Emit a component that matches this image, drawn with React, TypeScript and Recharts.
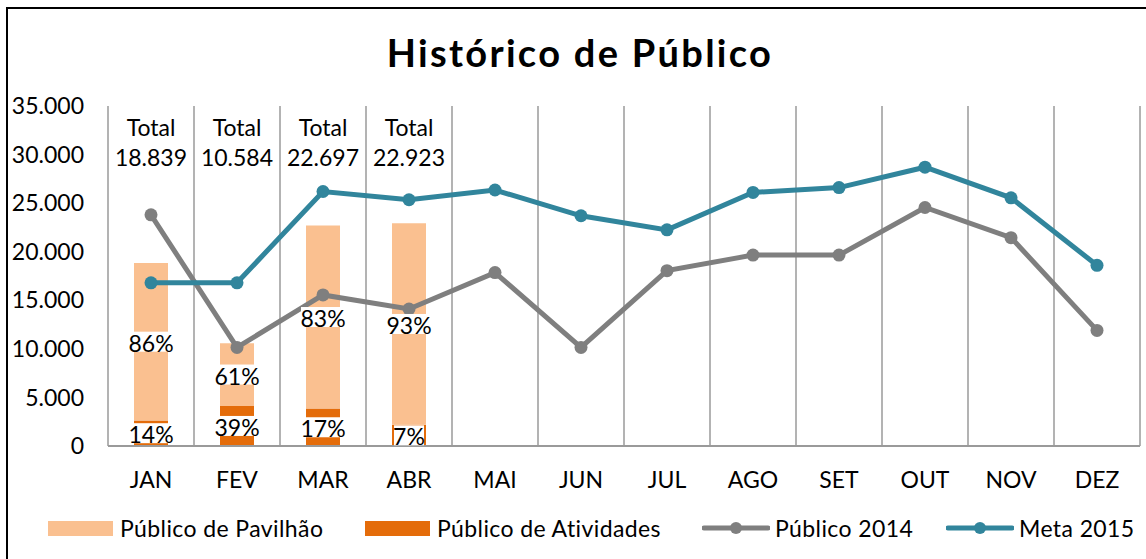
import { ComposedChart, Bar, Line, XAxis, YAxis, CartesianGrid, LabelList } from "recharts";

const FONT = "Lato, 'Open Sans', sans-serif";

const months = ["JAN", "FEV", "MAR", "ABR", "MAI", "JUN", "JUL", "AGO", "SET", "OUT", "NOV", "DEZ"];
const publicoPavilhao = [16202, 6456, 18839, 20723, null, null, null, null, null, null, null, null];
const publicoAtividades = [2637, 4128, 3858, 2200, null, null, null, null, null, null, null, null];
const pctPavilhao = [86, 61, 83, 93, null, null, null, null, null, null, null, null];
const pctAtividades = [14, 39, 17, 7, null, null, null, null, null, null, null, null];
const totals = [18839, 10584, 22697, 22923, null, null, null, null, null, null, null, null];
const publico2014 = [23800, 10150, 15550, 14100, 17850, 10150, 18050, 19650, 19650, 24550, 21450, 11900];
const meta2015 = [16800, 16800, 26200, 25350, 26350, 23700, 22250, 26100, 26600, 28700, 25550, 18600];
const yTicks = [0, 5000, 10000, 15000, 20000, 25000, 30000, 35000];

const data = months.map((m, i) => ({
    month: m,
    pavilhao: publicoPavilhao[i],
    atividades: publicoAtividades[i],
    pctPav: pctPavilhao[i],
    pctAtv: pctAtividades[i],
    total: totals[i],
    p2014: publico2014[i],
    meta: meta2015[i],
}));

const COLORS = {
    pavilhao: "#FAC090",
    atividades: "#E46C0A",
    p2014: "#7F7F7F",
    meta: "#31859C",
    grid: "#9a9a9a",
};

const fmt = (v: number) => String(v).replace(/\B(?=(\d{3})+(?!\d))/g, ".");

const PctLabel = (props: any) => {
    const { x, y, width, height, value } = props;
    if (value == null) return null;
    const cx = x + width / 2;
    const cy = y + height / 2;
    const w = String(value).length * 14 + 16;
    return (
        <g>
            <rect x={cx - w / 2} y={cy - 10} width={w} height={20} fill="#fff" />
            <text x={cx} y={cy + 1} textAnchor="middle" dominantBaseline="central" fontSize={23} fontFamily={FONT} fill="#000">
                {value}%
            </text>
        </g>
    );
};

// totals sit at the top of the plot, above each stacked bar
const TotalLabel = (props: any) => {
    const { x, width, value } = props;
    if (value == null) return null;
    const cx = x + width / 2;
    return (
        <g>
            <text x={cx} y={127} textAnchor="middle" dominantBaseline="central" fontSize={23} fontFamily={FONT} fill="#000">
                Total
            </text>
            <text x={cx} y={157} textAnchor="middle" dominantBaseline="central" fontSize={23} fontFamily={FONT} fill="#000">
                {fmt(value)}
            </text>
        </g>
    );
};

const LegendSwatch = ({ color }: { color: string }) => (
    <span style={{ display: "inline-block", width: 65, height: 15, background: color, marginRight: 7 }} />
);

const LegendLine = ({ color }: { color: string }) => (
    <svg width={68} height={16} style={{ marginRight: 5 }}>
        <line x1={2} y1={8} x2={66} y2={8} stroke={color} strokeWidth={5} strokeLinecap="round" />
        <circle cx={34} cy={8} r={6} fill={color} />
    </svg>
);

const legendItem = (left: number): React.CSSProperties => ({
    position: "absolute",
    left,
    top: 0,
    height: 28,
    display: "flex",
    alignItems: "center",
});

export default function App() {
    return (
        <div style={{ position: "fixed", left: 0, top: 0, width: 1146, height: 559, overflow: "hidden", background: "#fff", fontFamily: FONT }}>
            <div style={{ position: "absolute", left: 6, top: 7, width: 1200, height: 600, borderLeft: "2px solid #000", borderTop: "2px solid #000" }} />
            <div style={{ position: "absolute", left: 0, top: 0, width: 1160, textAlign: "center", fontWeight: 700, fontSize: 38, letterSpacing: 2.3, lineHeight: "40px", paddingTop: 32, color: "#000" }}>
                Histórico de Público
            </div>
            <div style={{ position: "absolute", left: 0, top: 0 }}>
                <ComposedChart width={1146} height={559} data={data} margin={{ top: 106, right: 6, bottom: 53, left: 0 }}>
                    <CartesianGrid
                        horizontal={false}
                        stroke={COLORS.grid}
                        strokeWidth={1.5}
                        verticalCoordinatesGenerator={({ offset }: any) =>
                            Array.from({ length: months.length + 1 }, (_, i) => offset.left + (i * offset.width) / months.length)
                        }
                    />
                    <XAxis
                        dataKey="month"
                        interval={0}
                        height={60}
                        tickLine={false}
                        tickMargin={20}
                        axisLine={{ stroke: COLORS.grid, strokeWidth: 2 }}
                        tick={{ fill: "#000", fontSize: 23, fontFamily: FONT }}
                    />
                    <YAxis
                        width={108}
                        domain={[0, 35000]}
                        ticks={yTicks}
                        axisLine={false}
                        tickLine={false}
                        tickMargin={18}
                        tickFormatter={fmt}
                        tick={{ fill: "#000", fontSize: 23, fontFamily: FONT }}
                    />
                    <Bar dataKey="atividades" stackId="a" fill={COLORS.atividades} barSize={34} isAnimationActive={false}>
                        <LabelList dataKey="pctAtv" content={PctLabel} />
                    </Bar>
                    <Bar dataKey="pavilhao" stackId="a" fill={COLORS.pavilhao} barSize={34} isAnimationActive={false}>
                        <LabelList dataKey="pctPav" content={PctLabel} />
                        <LabelList dataKey="total" content={TotalLabel} />
                    </Bar>
                    <Line
                        dataKey="p2014"
                        stroke={COLORS.p2014}
                        strokeWidth={5}
                        dot={{ r: 6.5, fill: COLORS.p2014, stroke: COLORS.p2014, strokeWidth: 0 }}
                        activeDot={false}
                        isAnimationActive={false}
                    />
                    <Line
                        dataKey="meta"
                        stroke={COLORS.meta}
                        strokeWidth={5}
                        dot={{ r: 6.5, fill: COLORS.meta, stroke: COLORS.meta, strokeWidth: 0 }}
                        activeDot={false}
                        isAnimationActive={false}
                    />
                </ComposedChart>
            </div>
            <div style={{ position: "absolute", left: 0, top: 514, width: 1146, height: 28, fontSize: 23, letterSpacing: 0.4, color: "#000", whiteSpace: "nowrap" }}>
                <span style={legendItem(48)}>
                    <LegendSwatch color={COLORS.pavilhao} />Público de Pavilhão
                </span>
                <span style={legendItem(365)}>
                    <LegendSwatch color={COLORS.atividades} />Público de Atividades
                </span>
                <span style={legendItem(702)}>
                    <LegendLine color={COLORS.p2014} />Público 2014
                </span>
                <span style={legendItem(946)}>
                    <LegendLine color={COLORS.meta} />Meta 2015
                </span>
            </div>
        </div>
    );
}
